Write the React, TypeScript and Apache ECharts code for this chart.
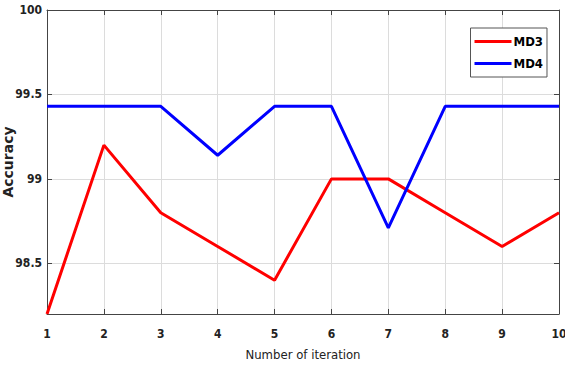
import React, { useEffect, useRef } from "react";
import * as echarts from "echarts";

const iterations = [1, 2, 3, 4, 5, 6, 7, 8, 9, 10];
const md3 = [98.2, 99.2, 98.8, 98.6, 98.4, 99.0, 99.0, 98.8, 98.6, 98.8];
const md4 = [99.43, 99.43, 99.43, 99.14, 99.43, 99.43, 98.71, 99.43, 99.43, 99.43];
const yTicks = [98.5, 99, 99.5, 100];
const seriesNames = ["MD3", "MD4"];

const FONT = "'DejaVu Sans Condensed', 'Liberation Sans Narrow', 'Liberation Sans', Arial, sans-serif";

export default function App() {
  const ref = useRef<HTMLDivElement>(null);
  useEffect(() => {
    if (!ref.current) return;
    const chart = echarts.init(ref.current, null, { renderer: "svg" });
    const axisLine = { show: true, lineStyle: { color: "#444", width: 1 } };
    chart.setOption({
      animation: false,
      backgroundColor: "#fff",
      grid: { left: 47, right: 6, top: 10, bottom: 54, show: false, outerBoundsMode: "none", containLabel: false },
      legend: {
        orient: "vertical",
        right: 18,
        top: 28,
        data: seriesNames,
        icon: "rect",
        itemWidth: 37,
        itemHeight: 3,
        itemGap: 9,
        padding: [7, 4, 7, 4],
        borderColor: "#555",
        borderWidth: 1,
        backgroundColor: "#fff",
        textStyle: { fontFamily: FONT, fontWeight: "bold", fontSize: 13, color: "#000", padding: [0, 0, 0, -3] },
      },
      xAxis: [
        {
          type: "value",
          min: 1,
          max: 10,
          interval: 1,
          position: "bottom",
          name: "Number of iteration",
          nameLocation: "middle",
          nameGap: 34,
          nameMoveOverlap: false,
          nameTextStyle: { fontFamily: FONT, fontSize: 13, color: "#222" },
          axisLine,
          axisTick: { show: true, inside: true, length: 5, lineStyle: { color: "#444" } },
          axisLabel: { fontFamily: FONT, fontWeight: "bold", fontSize: 12, color: "#222", margin: 14 },
          splitLine: { show: true, lineStyle: { color: "#dcdcdc", width: 1 } },
        },
        {
          type: "value",
          min: 1,
          max: 10,
          interval: 1,
          position: "top",
          axisLine,
          axisTick: { show: true, inside: true, length: 5, lineStyle: { color: "#444" } },
          axisLabel: { show: false },
          splitLine: { show: false },
        },
      ],
      yAxis: [
        {
          type: "value",
          min: 98.2,
          max: 100,
          position: "left",
          name: "Accuracy",
          nameLocation: "middle",
          nameGap: 32,
          nameMoveOverlap: false,
          nameTextStyle: { fontFamily: "'DejaVu Sans', 'Liberation Sans', Arial, sans-serif", fontWeight: "bold", fontSize: 14, color: "#222" },
          axisLine,
          axisTick: { show: true, inside: true, length: 5, customValues: yTicks, lineStyle: { color: "#444" } },
          axisLabel: { fontFamily: FONT, fontWeight: "bold", fontSize: 12, color: "#222", margin: 5, customValues: yTicks },
          splitLine: { show: true, lineStyle: { color: "#dcdcdc", width: 1 } },
        },
        {
          type: "value",
          min: 98.2,
          max: 100,
          position: "right",
          axisLine,
          axisTick: { show: true, inside: true, length: 5, customValues: yTicks, lineStyle: { color: "#444" } },
          axisLabel: { show: false },
          splitLine: { show: false },
        },
      ],
      series: [
        {
          name: seriesNames[0],
          type: "line",
          data: iterations.map((x, i) => [x, md3[i]]),
          showSymbol: false,
          symbol: "none",
          lineStyle: { color: "#ff0000", width: 3 },
          itemStyle: { color: "#ff0000" },
          z: 3,
        },
        {
          name: seriesNames[1],
          type: "line",
          data: iterations.map((x, i) => [x, md4[i]]),
          showSymbol: false,
          symbol: "none",
          lineStyle: { color: "#0000ff", width: 3 },
          itemStyle: { color: "#0000ff" },
          z: 3,
        },
      ],
    });
    return () => chart.dispose();
  }, []);
  return (
    <div
      ref={ref}
      style={{ position: "fixed", left: 0, top: 0, width: 565, height: 368 }}
    />
  );
}
